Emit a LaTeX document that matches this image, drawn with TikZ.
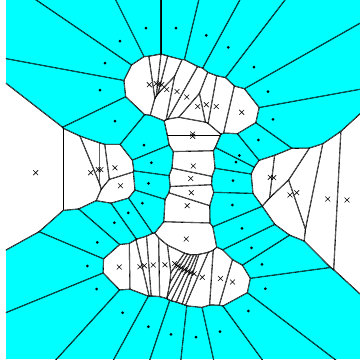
\documentclass[tikz,border=0pt]{standalone}
\usetikzlibrary{shapes.misc}
\definecolor{vc}{RGB}{0,255,255}
\definecolor{vw}{RGB}{255,255,255}
\def\sitelist{%
146/28/c,176/28/c,206.3/35.3/c,228.3/47.3/c,254/67/c,268/91.7/c,273/119.3/c,%
258.3/140/c,239.3/155.5/c,236/162/c,233/180.7/c,232.3/205/c,242/228.3/c,%
251.5/247.8/c,262/264.3/c,265.3/288.7/c,248.3/311/c,220/331.7/c,196/337/c,%
171/334.3/c,148.3/326.7/c,122.7/312.7/c,96.7/289/c,87.3/266/c,97.3/242.3/c,%
114.3/222.7/c,128.3/212.8/c,142.3/203.2/c,148.5/183.3/c,151.3/162.7/c,%
144/145/c,115/121/c,100/90/c,105/63/c,120/41/c,%
35.7/172.7/w,90.7/172.7/w,98.2/169.6/w,100.9/169.6/w,114.9/167.8/w,120.5/185.8/w,%
149.3/84.7/w,156.3/83.7/w,159/84/w,161.7/84.7/w,166.7/89.5/w,177/91.5/w,%
186.7/97/w,197.7/106.5/w,206.3/104.7/w,216.3/106.5/w,241.7/112.3/w,%
192.7/134/w,192.7/136.3/w,193.3/166/w,190.7/178.5/w,191.3/192.7/w,187.2/205.7/w,%
186.3/239/w,270.3/177.3/w,273.7/177.7/w,290/195/w,296.7/192.7/w,327.7/199/w,%
347/200/w,119.3/267/w,140/266.7/w,144.3/265.7/w,153.3/265/w,164.9/264.8/w,%
174.7/263.6/w,177.95/265.9/w,181.2/267.9/w,184.45/269.7/w,187.7/271.3/w,190.95/272.7/w,%
194.2/273.8/w,202.3/277.3/w,220.5/278.5/w,232.5/282/w}
\makeatletter
\newif\ifvorsame
\def\vorpair#1/#2/#3\relax#4#5{%
  \vorsamefalse
  \ifdim#1pt=#4pt\relax\ifdim#2pt=#5pt\relax\vorsametrue\fi\fi
  \ifvorsame\else
    \pgfmathsetmacro\vmx{(#1+#4)/2}%
    \pgfmathsetmacro\vmy{(#2+#5)/2}%
    \pgfmathsetmacro\vang{atan2(#5-#2,#4-#1)}%
    \pgfmathsetmacro\vux{1500*cos(\vang)}%
    \pgfmathsetmacro\vuy{1500*sin(\vang)}%
    \pgfmathsetmacro\vax{\vmx-\vuy}%
    \pgfmathsetmacro\vay{\vmy+\vux}%
    \pgfmathsetmacro\vbx{\vmx+\vuy}%
    \pgfmathsetmacro\vby{\vmy-\vux}%
    \vorcmd
  \fi}
\def\vorclip{%
  \pgfmathsetmacro\vcx{\vbx+\vux}%
  \pgfmathsetmacro\vcy{\vby+\vuy}%
  \pgfmathsetmacro\vdx{\vax+\vux}%
  \pgfmathsetmacro\vdy{\vay+\vuy}%
  \clip (\vax,\vay) -- (\vbx,\vby) -- (\vcx,\vcy) -- (\vdx,\vdy) -- cycle;}
\def\vorline{\draw[vline] (\vax,\vay) -- (\vbx,\vby);}
\newcommand\vorcell[3]{%
  \begin{scope}%
    \let\vorcmd\vorclip
    \@for\vq:=\sitelist\do{\expandafter\vorpair\vq\relax{#1}{#2}}%
    \fill[v#3] (6,0) rectangle (360,359);%
    \let\vorcmd\vorline
    \@for\vq:=\sitelist\do{\expandafter\vorpair\vq\relax{#1}{#2}}%
  \end{scope}}
\makeatother
\begin{document}
\begin{tikzpicture}[x=1pt,y=-1pt,
  vline/.style={draw=black,line width=1.1pt},
  mkc/.style={circle,fill=black,inner sep=0pt,minimum size=3pt},
  mkw/.style={cross out,draw=black,inner sep=0pt,minimum size=4.2pt,line width=0.6pt}]
\useasboundingbox (0,0) rectangle (360,360);
\fill[white] (0,0) rectangle (360,360);
\begin{scope}
\clip (6,0) rectangle (360,359);
\foreach \px/\py/\pt in \sitelist {\edef\tmp{\noexpand\vorcell{\px}{\py}{\pt}}\tmp}
\end{scope}
\foreach \px/\py/\pt in \sitelist {\node[mk\pt] at (\px,\py) {};}
\end{tikzpicture}
\end{document}
